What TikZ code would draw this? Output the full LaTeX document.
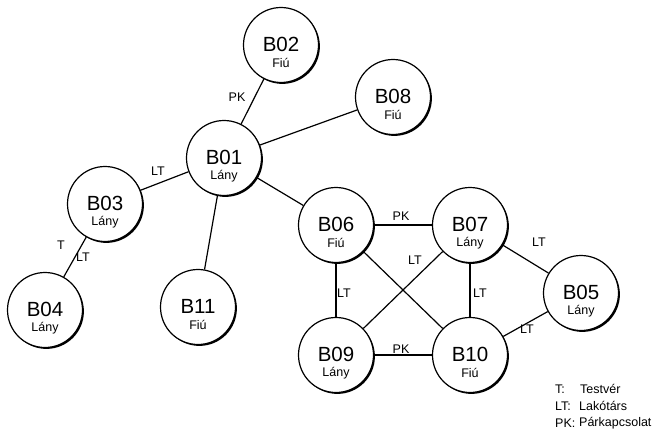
\documentclass[tikz,border=0pt]{standalone}
\usepackage{fontspec}
\setmainfont{Liberation Sans}
\usetikzlibrary{shadows}
\begin{document}
\begin{tikzpicture}[x=1pt,y=-1pt,
  person/.style={circle, draw=black, line width=1.2pt, fill=white,
    minimum size=75pt, inner sep=0pt,
    general shadow={fill=black, shadow xshift=1.4pt, shadow yshift=-1.4pt}},
  mainlab/.style={inner sep=0pt, font=\fontsize{20.5}{20.5}\selectfont},
  sublab/.style={inner sep=0pt, font=\fontsize{12.5}{12.5}\selectfont},
  elab/.style={inner sep=0pt, font=\fontsize{12.5}{12.5}\selectfont},
  legend/.style={inner sep=0pt, anchor=west, font=\fontsize{12.5}{12.5}\selectfont},
  rel/.style={line width=1.2pt, black}]
\useasboundingbox (0,0) rectangle (656,436);
\newcommand\pers[4]{%
  \node[person] (#1) at (#2) {};
  \node[mainlab] (#1m) at ([yshift=1pt]#1.center) {#3};
  \node[sublab] (#1s) at ([yshift=-18pt]#1.center) {#4};
}
\pers{b02}{281,45}{B02}{Fiú}
\pers{b08}{393,97}{B08}{Fiú}
\pers{b01}{224,158}{B01}{Lány}
\pers{b03}{105,204}{B03}{Lány}
\pers{b04}{45,310}{B04}{Lány}
\pers{b11}{198,307}{B11}{Fiú}
\pers{b06}{336,225}{B06}{Fiú}
\pers{b07}{470,225}{B07}{Lány}
\pers{b05}{581,293}{B05}{Lány}
\pers{b09}{336,355}{B09}{Lány}
\pers{b10}{470,355}{B10}{Fiú}

\draw[rel] (b01) -- (b02);
\draw[rel] (b01) -- (b08);
\draw[rel] (b01) -- (b03);
\draw[rel] (b03) -- (b04);
\draw[rel] (b01) -- (b11);
\draw[rel] (b01) -- (b06);
\draw[rel] (b06) -- (b07);
\draw[rel] (b06) -- (b09);
\draw[rel] (b06) -- (b10);
\draw[rel] (b07) -- (b09);
\draw[rel] (b07) -- (b10);
\draw[rel] (b07) -- (b05);
\draw[rel] (b10) -- (b05);
\draw[rel] (b09) -- (b10);

\node[elab] (l12) at (237,97) {PK};
\node[elab] (l13) at (158,171) {LT};
\node[elab] (l34a) at (61,245) {T};
\node[elab] (l34b) at (83,257) {LT};
\node[elab] (l67) at (401,216) {PK};
\node[elab] (l69) at (344,293) {LT};
\node[elab] (l79) at (415,260) {LT};
\node[elab] (l710) at (480,293) {LT};
\node[elab] (l75) at (539,242) {LT};
\node[elab] (l105) at (527,329) {LT};
\node[elab] (l910) at (401,349) {PK};

\node[legend] (k1) at (555,389) {T:};
\node[legend] (v1) at (580,389) {Testvér};
\node[legend] (k2) at (555,406) {LT:};
\node[legend] (v2) at (579,406) {Lakótárs};
\node[legend] (k3) at (555,423) {PK:};
\node[legend] (v3) at (579,423) {Párkapcsolat};
\end{tikzpicture}
\end{document}
